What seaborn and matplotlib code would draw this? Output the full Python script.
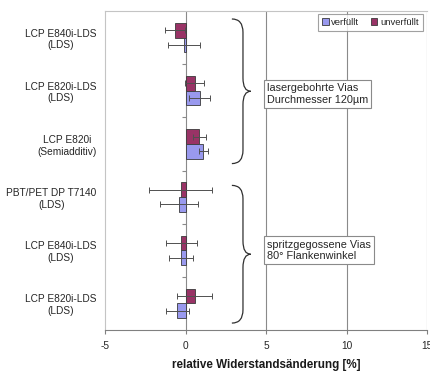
import matplotlib
matplotlib.use("Agg")
import matplotlib.pyplot as plt
from matplotlib.patches import Patch, PathPatch
from matplotlib.path import Path
import numpy as np
import pandas as pd
import seaborn as sns

# Materials / via types (top to bottom)
probes = [
    "LCP E840i-LDS\n(LDS)",
    "LCP E820i-LDS\n(LDS)",
    "LCP E820i\n(Semiadditiv)",
    "PBT/PET DP T7140\n(LDS)",
    "LCP E840i-LDS\n(LDS)",
    "LCP E820i-LDS\n(LDS)",
]

# Relative resistance change [%] and its spread
unverfuellt = [-0.66, 0.58, 0.85, -0.30, -0.26, 0.57]
unverfuellt_err = [0.60, 0.60, 0.41, 1.97, 0.98, 1.10]
verfuellt = [-0.08, 0.88, 1.10, -0.40, -0.28, -0.52]
verfuellt_err = [1.00, 0.65, 0.27, 1.18, 0.76, 0.72]

series_names = ["unverfüllt", "verfüllt"]
colors = {"unverfüllt": "#993366", "verfüllt": "#9999ee"}
x_ticks = [-5, 0, 5, 10, 15]

sns.set_theme(style="white")
plt.rcParams["font.family"] = ["Liberation Sans", "DejaVu Sans"]

rows = []
for i in range(len(probes)):
    rows.append({"pos": str(i), "serie": "unverfüllt", "wert": unverfuellt[i]})
    rows.append({"pos": str(i), "serie": "verfüllt", "wert": verfuellt[i]})
df = pd.DataFrame(rows)

fig = plt.figure(figsize=(4.30, 3.71), dpi=100)
ax = fig.add_axes([105 / 430, 41 / 371, 322 / 430, 319 / 371])

sns.barplot(
    data=df, y="pos", x="wert", hue="serie", hue_order=series_names,
    order=[str(i) for i in range(len(probes))], orient="h",
    palette=colors, width=0.55, gap=0, errorbar=None, legend=False,
    edgecolor="#3a3a3a", linewidth=0.6, saturation=1, ax=ax, zorder=3,
)

# Error bars centred on each bar
errs = {"unverfüllt": unverfuellt_err, "verfüllt": verfuellt_err}
vals = {"unverfüllt": unverfuellt, "verfüllt": verfuellt}
for name, cont in zip(series_names, ax.containers):
    ys = [b.get_y() + b.get_height() / 2 for b in cont]
    ax.errorbar(vals[name], ys, xerr=errs[name], fmt="none", ecolor="#505050",
                elinewidth=0.7, capsize=2, capthick=0.7, zorder=4)

ax.set_xlim(-5, 15)
ax.set_ylim(len(probes) - 0.5, -0.5)

# Grid lines and the vertical axis at zero
for gx in [5, 10, 15]:
    ax.axvline(gx, color="#8a8a8a", lw=0.8, zorder=1)
ax.axvline(0, color="#8a8a8a", lw=0.8, zorder=2)
ax.hlines(np.arange(0.5, len(probes) - 0.5, 1.0), -0.2, 0, color="#8a8a8a", lw=0.8, zorder=2)

ax.set_xticks(x_ticks)
ax.set_xticklabels([str(t) for t in x_ticks])
ax.set_yticks(range(len(probes)))
ax.set_yticklabels(probes)
for lab in ax.get_yticklabels():
    lab.set_multialignment("center")
ax.tick_params(axis="y", length=0, pad=6, labelsize=7.3, labelcolor="#262626")
ax.tick_params(axis="x", bottom=True, length=3, width=0.8, color="#808080",
               pad=5, labelsize=7.3, labelcolor="#262626", direction="out")

for side in ["top", "left"]:
    ax.spines[side].set_color("#c4c4c4")
    ax.spines[side].set_linewidth(0.8)
ax.spines["right"].set_visible(False)
ax.spines["bottom"].set_color("#808080")
ax.spines["bottom"].set_linewidth(0.8)

ax.set_ylabel("")
ax.set_xlabel("relative Widerstandsänderung [%]", fontsize=8.4, fontweight="bold",
              color="#1a1a1a", labelpad=6)


def brace(x0, xm, xt, ytop, ybot, r):
    ymid = (ytop + ybot) / 2
    verts = [(x0, ytop), (xm, ytop), (xm, ytop + r),
             (xm, ymid - r), (xm, ymid), (xt, ymid),
             (xm, ymid), (xm, ymid + r),
             (xm, ybot - r), (xm, ybot), (x0, ybot)]
    codes = [Path.MOVETO, Path.CURVE3, Path.CURVE3,
             Path.LINETO, Path.CURVE3, Path.CURVE3,
             Path.CURVE3, Path.CURVE3,
             Path.LINETO, Path.CURVE3, Path.CURVE3]
    ax.add_patch(PathPatch(Path(verts, codes), fill=False, edgecolor="#303030",
                           lw=0.9, zorder=5))


brace(2.88, 3.57, 4.05, -0.35, 2.37, 0.25)
brace(2.88, 3.57, 4.05, 2.78, 5.37, 0.25)

box = dict(boxstyle="square,pad=0.3", facecolor="white", edgecolor="#8a8a8a", lw=0.8)
ax.text(5.06, 1.06, "lasergebohrte Vias\nDurchmesser 120µm", ha="left", va="center",
        fontsize=7.8, color="#262626", bbox=box, zorder=6, linespacing=1.15)
ax.text(5.06, 4.0, "spritzgegossene Vias\n80° Flankenwinkel", ha="left", va="center",
        fontsize=7.8, color="#262626", bbox=box, zorder=6, linespacing=1.15)

handles = [Patch(facecolor=colors["verfüllt"], edgecolor="#3a3a3a", lw=0.6),
           Patch(facecolor=colors["unverfüllt"], edgecolor="#3a3a3a", lw=0.6)]
leg = ax.legend(handles, ["verfüllt", "unverfüllt"], ncol=2, loc="upper right",
                bbox_to_anchor=(0.988, 0.992), fontsize=6.8, frameon=True,
                fancybox=False, handlelength=0.7, handleheight=0.7,
                handletextpad=0.3, columnspacing=1.2, borderpad=0.45,
                borderaxespad=0)
leg.get_frame().set_edgecolor("#8a8a8a")
leg.get_frame().set_linewidth(0.8)
leg.set_zorder(7)

fig.savefig("out.png", dpi=100)
